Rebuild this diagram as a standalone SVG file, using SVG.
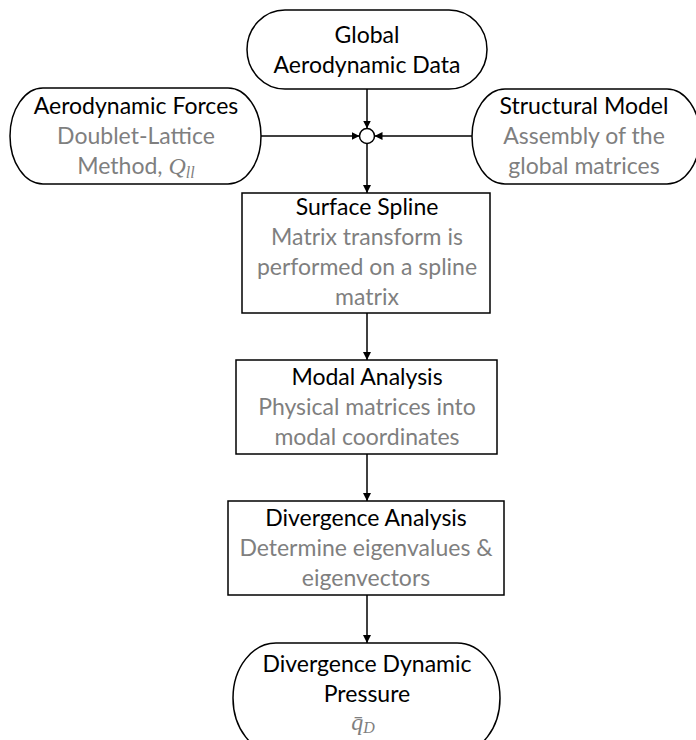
<svg xmlns="http://www.w3.org/2000/svg" width="696" height="740" viewBox="0 0 696 740">
  <defs>
    <marker id="arrow" viewBox="0 0 10 10" refX="10" refY="5" markerWidth="8" markerHeight="8" markerUnits="userSpaceOnUse" orient="auto">
      <path d="M0,0 L10,5 L0,10 z" fill="#000"/>
    </marker>
    <style>
      .shape { fill: #fff; stroke: #000; stroke-width: 1.5; }
      .edge { fill: none; stroke: #000; stroke-width: 1.5; marker-end: url(#arrow); }
      text { font-family: Lato, "Liberation Sans", sans-serif; font-size: 23px; text-anchor: middle; }
      .title { fill: #000; }
      .sub { fill: #7f7f7f; }
      .math { font-family: "Liberation Serif", serif; font-style: italic; font-size: 24px; }
    </style>
  </defs>
  <rect width="696" height="740" fill="#fff"/>

  <g id="connectors">
    <path class="edge" d="M367,89 L367,128.5"/>
    <path class="edge" d="M261,136 L359.5,136"/>
    <path class="edge" d="M472,136 L374.5,136"/>
    <path class="edge" d="M367,143.5 L367,193"/>
    <path class="edge" d="M367,313 L367,360"/>
    <path class="edge" d="M367,454 L367,501"/>
    <path class="edge" d="M367,595 L367,643"/>
  </g>

  <g id="junction">
    <circle class="shape" cx="367" cy="136" r="7.5"/>
  </g>

  <g id="global-aero-data">
    <rect class="shape" x="247" y="10" width="240" height="79" rx="38" ry="39.5"/>
    <text class="title" x="367" y="43">Global</text>
    <text class="title" x="367" y="73">Aerodynamic Data</text>
  </g>

  <g id="aero-forces">
    <path class="shape" d="M43,88 H228 A33,48 0 0 1 228,184 H43 A33,48 0 0 1 43,88 Z"/>
    <text class="title" x="136" y="114">Aerodynamic Forces</text>
    <text class="sub" x="136" y="144">Doublet-Lattice</text>
    <text class="sub" x="136" y="174">Method, <tspan class="math">Q<tspan font-size="16" dy="4">ll</tspan></tspan></text>
  </g>

  <g id="structural-model">
    <path class="shape" d="M505,89 H667 A33,47.5 0 0 1 667,184 H505 A33,47.5 0 0 1 505,89 Z"/>
    <text class="title" x="584" y="114">Structural Model</text>
    <text class="sub" x="584" y="144">Assembly of the</text>
    <text class="sub" x="584" y="174">global matrices</text>
  </g>

  <g id="surface-spline">
    <rect class="shape" x="242" y="193" width="248" height="120"/>
    <text class="title" x="367" y="215">Surface Spline</text>
    <text class="sub" x="367" y="245">Matrix transform is</text>
    <text class="sub" x="367" y="275">performed on a spline</text>
    <text class="sub" x="367" y="305">matrix</text>
  </g>

  <g id="modal-analysis">
    <rect class="shape" x="236" y="360" width="261" height="94"/>
    <text class="title" x="367" y="385">Modal Analysis</text>
    <text class="sub" x="367" y="415">Physical matrices into</text>
    <text class="sub" x="367" y="445">modal coordinates</text>
  </g>

  <g id="divergence-analysis">
    <rect class="shape" x="228" y="501" width="276" height="94"/>
    <text class="title" x="366" y="526">Divergence Analysis</text>
    <text class="sub" x="366" y="556">Determine eigenvalues &amp;</text>
    <text class="sub" x="366" y="586">eigenvectors</text>
  </g>

  <g id="divergence-pressure">
    <path class="shape" d="M276,643 H457 A43,55 0 0 1 457,753 H276 A43,55 0 0 1 276,643 Z"/>
    <text class="title" x="367" y="672">Divergence Dynamic</text>
    <text class="title" x="367" y="702">Pressure</text>
    <text class="sub math" x="363" y="730">q̄<tspan font-size="16" dy="3">D</tspan></text>
  </g>
</svg>
